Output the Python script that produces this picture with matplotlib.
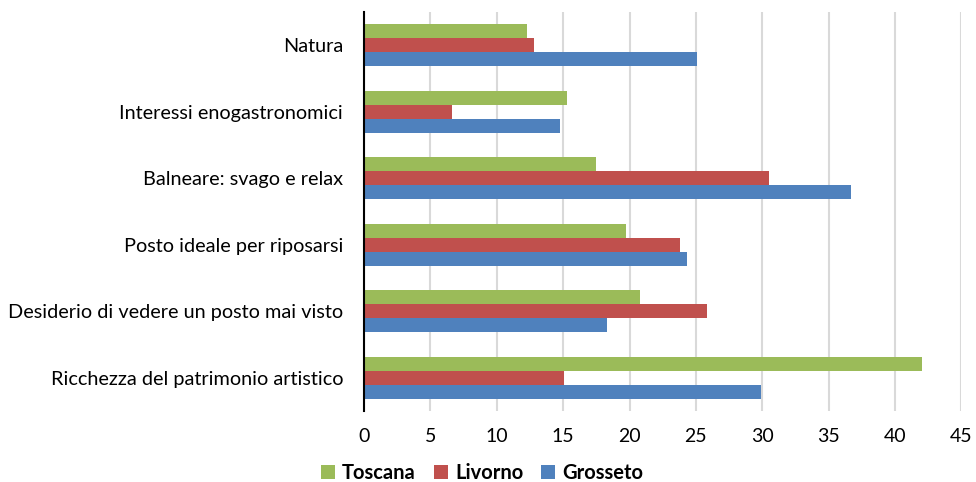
import numpy as np
import matplotlib
matplotlib.use("Agg")
import matplotlib.pyplot as plt

plt.rcParams['font.family'] = ['Lato', 'DejaVu Sans']

categories = ["Natura",
              "Interessi enogastronomici",
              "Balneare: svago e relax",
              "Posto ideale per riposarsi",
              "Desiderio di vedere un posto mai visto",
              "Ricchezza del patrimonio artistico"]
toscana = [12.3, 15.3, 17.5, 19.7, 20.8, 42.0]
livorno = [12.8, 6.6, 30.5, 23.8, 25.8, 15.1]
grosseto = [25.1, 14.8, 36.7, 24.3, 18.3, 29.9]
xticks = [0, 5, 10, 15, 20, 25, 30, 35, 40, 45]

fig = plt.figure(figsize=(9.76, 4.82), dpi=100)
ax = fig.add_axes([0.373, 0.147, 0.612, 0.828])

y = np.arange(len(categories))
h = 0.21
ax.barh(y - h, toscana, height=h, color="#9BBB59", label="Toscana", zorder=3)
ax.barh(y, livorno, height=h, color="#C0504D", label="Livorno", zorder=3)
ax.barh(y + h, grosseto, height=h, color="#4F81BD", label="Grosseto", zorder=3)

ax.set_ylim(len(categories) - 0.5, -0.5)
ax.set_xlim(0, 45)
ax.set_xticks(xticks)
ax.set_yticks(y)
ax.set_yticklabels(categories, fontsize=14.3)
ax.tick_params(axis="x", length=0, labelsize=14, pad=12)
ax.tick_params(axis="y", length=0, pad=15)
ax.grid(axis="x", color="#D9D9D9", linewidth=1.5, zorder=0)
for s in ["top", "right", "bottom"]:
    ax.spines[s].set_visible(False)
ax.spines["left"].set_linewidth(1.5)
ax.spines["left"].set_zorder(4)

fig.legend(loc="lower center", bbox_to_anchor=(0.494, -0.04), ncol=3, frameon=False,
           prop={"weight": "bold", "size": 14.5}, handlelength=0.7, handleheight=0.7,
           columnspacing=0.9, handletextpad=0.35)

plt.savefig("out.png", dpi=100)
